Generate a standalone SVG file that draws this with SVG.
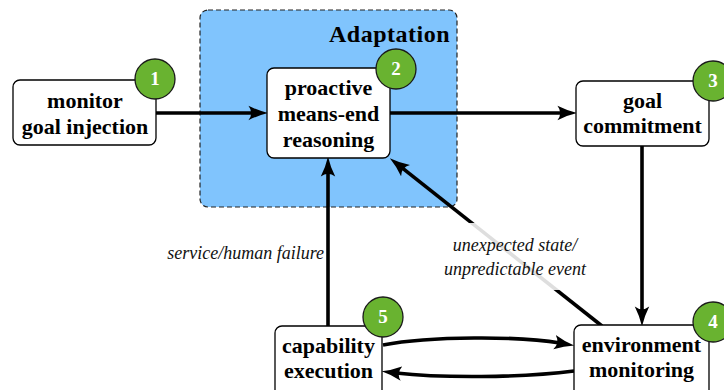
<svg xmlns="http://www.w3.org/2000/svg" width="724" height="390" viewBox="0 0 724 390">
<style>
.box{fill:#fff;stroke:#000;stroke-width:1.3}
.nt{font-family:"Liberation Serif","Times New Roman",serif;font-weight:bold;font-size:22px;text-anchor:middle;fill:#000}
.badge{fill:#69b330;stroke:#1a1a1a;stroke-width:1.3}
.bn{font-family:"Liberation Serif","Times New Roman",serif;font-weight:bold;font-size:19px;text-anchor:middle;fill:#fff}
.lbl{font-family:"Liberation Serif","Times New Roman",serif;font-style:italic;font-size:18px;fill:#111}
.edge{fill:none;stroke:#000;stroke-width:3.6;marker-end:url(#ah)}
</style>
<defs>
<marker id="ah" markerUnits="userSpaceOnUse" markerWidth="20" markerHeight="16" viewBox="0 0 18 14" refX="5" refY="7" orient="auto">
<path d="M0,0.5 Q9,5 18,7 Q9,9 0,13.5 Q5,7 0,0.5 Z" fill="#000"/>
</marker>
</defs>
<g id="adaptation">
<rect x="200" y="10" width="257" height="197" rx="8" fill="#80c4fd" stroke="#222" stroke-width="1.2" stroke-dasharray="5,3"/>
<text x="450" y="42" font-family="'Liberation Serif','Times New Roman',serif" font-weight="bold" font-size="24" letter-spacing="0.5" text-anchor="end">Adaptation</text>
</g>
<g id="connectors">
<path class="edge" d="M156,113 L254,113"/>
<path class="edge" d="M390,113 L563,113"/>
<path class="edge" d="M642,146 L642,312"/>
<path class="edge" d="M328,326 L328,171"/>
<path class="edge" d="M602,326 L401.2,167.1"/>
<path class="edge" d="M383,345 C430,336 520,336 560,343"/>
<path class="edge" d="M574,371 C520,378 440,378 396,373"/>
</g>
<g id="label-unexpected">
<rect x="440" y="223" width="152" height="67" fill="#fff" fill-opacity="0.87"/>
<text class="lbl" x="515" y="251" text-anchor="middle">unexpected state/</text>
<text class="lbl" x="515" y="275" text-anchor="middle">unpredictable event</text>
</g>
<g id="label-failure">
<text class="lbl" x="324" y="259" text-anchor="end">service/human failure</text>
</g>
<g id="n1">
<rect class="box" x="13" y="80" width="143" height="65" rx="7"/>
<text class="nt" x="85" y="108">monitor</text>
<text class="nt" x="85" y="134">goal injection</text>
<circle class="badge" cx="155" cy="79" r="20"/>
<text class="bn" x="155" y="85">1</text>
</g>
<g id="n2">
<rect class="box" x="267" y="68" width="123" height="90" rx="7"/>
<text class="nt" x="328.5" y="95">proactive</text>
<text class="nt" x="328.5" y="121">means-end</text>
<text class="nt" x="328.5" y="147">reasoning</text>
<circle class="badge" cx="396" cy="69" r="20"/>
<text class="bn" x="396" y="75">2</text>
</g>
<g id="n3">
<rect class="box" x="576" y="81" width="133" height="65" rx="7"/>
<text class="nt" x="642.5" y="108">goal</text>
<text class="nt" x="642.5" y="133">commitment</text>
<circle class="badge" cx="713" cy="81" r="20"/>
<text class="bn" x="713" y="87">3</text>
</g>
<g id="n4">
<rect class="box" x="574" y="325" width="135" height="75" rx="7"/>
<text class="nt" x="641.5" y="352">environment</text>
<text class="nt" x="641.5" y="377">monitoring</text>
<circle class="badge" cx="713" cy="322" r="20"/>
<text class="bn" x="713" y="328">4</text>
</g>
<g id="n5">
<rect class="box" x="275" y="326" width="107" height="74" rx="7"/>
<text class="nt" x="328.5" y="353">capability</text>
<text class="nt" x="328.5" y="378">execution</text>
<circle class="badge" cx="383" cy="317" r="20"/>
<text class="bn" x="383" y="323">5</text>
</g>
</svg>
